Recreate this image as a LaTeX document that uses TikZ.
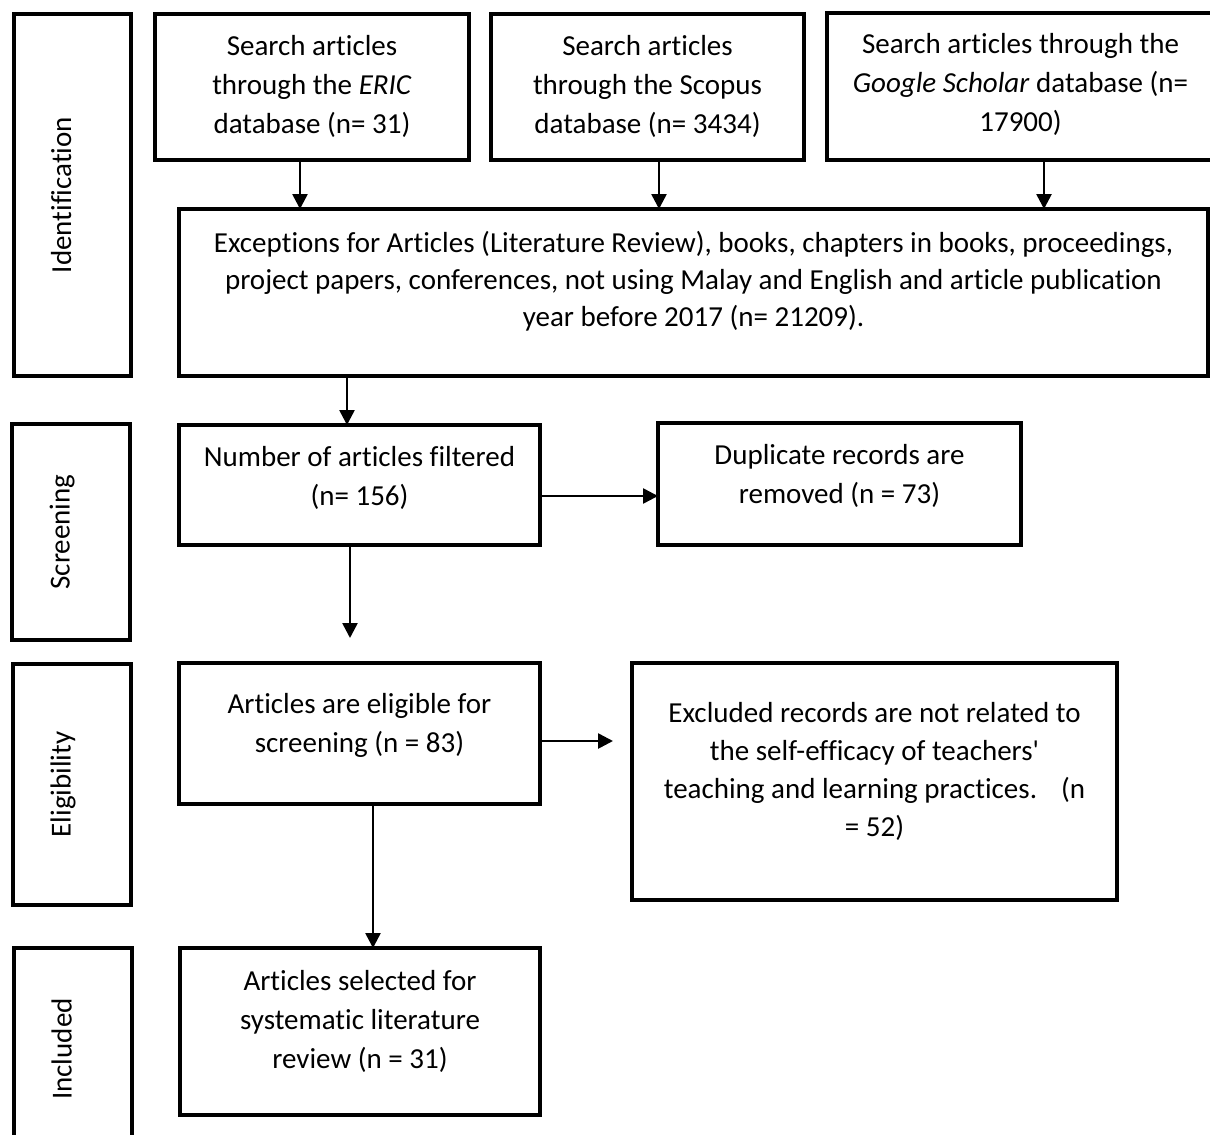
\documentclass[tikz,border=0pt]{standalone}
\usepackage{fontspec}
\setmainfont{Carlito}[Ligatures={NoCommon}]
\usetikzlibrary{arrows.meta}
\newcommand\bxt[5]{\parbox[c][#2][t]{#1}{\centering\fontsize{29pt}{#3}\selectfont\rule{0pt}{#4}#5}}
\begin{document}
\begin{tikzpicture}[x=1pt,y=-1pt,
  box/.style={draw,line width=3.2pt,inner sep=0pt,outer sep=0pt,anchor=north west},
  lab/.style={draw,line width=3.2pt,inner sep=0pt,outer sep=0pt,rotate=90,
    text height=10pt,text depth=13pt,font=\fontsize{29pt}{35pt}\selectfont},
  arr/.style={line width=2.6pt,-{Triangle[length=15pt,width=15pt]}}]
\useasboundingbox (0,0) rectangle (1210,1135);
% stage labels
\node[lab,minimum width=362pt,minimum height=117pt] (idl) at (72.5,195) {Identification};
\node[lab,minimum width=216pt,minimum height=118pt] (scl) at (71,532) {Screening};
\node[lab,minimum width=241pt,minimum height=118pt] (ell) at (72,784.5) {Eligibility};
\node[lab,minimum width=202pt,minimum height=118pt] (inl) at (73,1049) {Included};
% boxes
\node[box] (eric) at (155,14) {\bxt{314pt}{146pt}{39pt}{41pt}{Search articles\\through the \textit{ERIC}\\database (n= 31)}};
\node[box] (scopus) at (491,14) {\bxt{313pt}{146pt}{39pt}{41pt}{Search articles\\through the Scopus\\database (n= 3434)}};
\node[box] (gs) at (827,13) {\bxt{387pt}{147pt}{39pt}{40pt}{Search articles through the\\\textit{Google Scholar} database (n=\\17900)}};
\node[box] (exc) at (179,209) {\bxt{1029pt}{167pt}{37pt}{43pt}{Exceptions for Articles (Literature Review), books, chapters in books, proceedings,\\project papers, conferences, not using Malay and English and article publication\\year before 2017 (n= 21209).}};
\node[box] (num) at (179,425) {\bxt{361pt}{120pt}{39pt}{41pt}{Number of articles filtered\\(n= 156)}};
\node[box] (dup) at (658,423) {\bxt{363pt}{122pt}{39pt}{41pt}{Duplicate records are\\removed (n = 73)}};
\node[box] (elig) at (179,663) {\bxt{361pt}{141pt}{39pt}{50pt}{Articles are eligible for\\screening (n = 83)}};
\node[box] (excl) at (632,663) {\bxt{485pt}{237pt}{38pt}{59pt}{Excluded records are not related to\\the self-efficacy of teachers\textquotesingle\\teaching and learning practices.\hspace{24pt}(n\\= 52)}};
\node[box] (sel) at (180,948) {\bxt{360pt}{167pt}{39pt}{42pt}{Articles selected for\\systematic literature\\review (n = 31)}};
% free ends
\coordinate (n2e) at (350,638);
\coordinate (e2x) at (613,741);
% connectors
\draw[arr] (300,0 |- eric.south) -- (300,0 |- exc.north);
\draw[arr] (659,0 |- scopus.south) -- (659,0 |- exc.north);
\draw[arr] (1044,0 |- gs.south) -- (1044,0 |- exc.north);
\draw[arr] (347,0 |- exc.south) -- (347,0 |- num.north);
\draw[arr] (350,0 |- num.south) -- (n2e);
\draw[arr] (num.east |- 0,496) -- (dup.west |- 0,496);
\draw[arr] (elig.east |- 0,741) -- (e2x);
\draw[arr] (373,0 |- elig.south) -- (373,0 |- sel.north);
\end{tikzpicture}
\end{document}
